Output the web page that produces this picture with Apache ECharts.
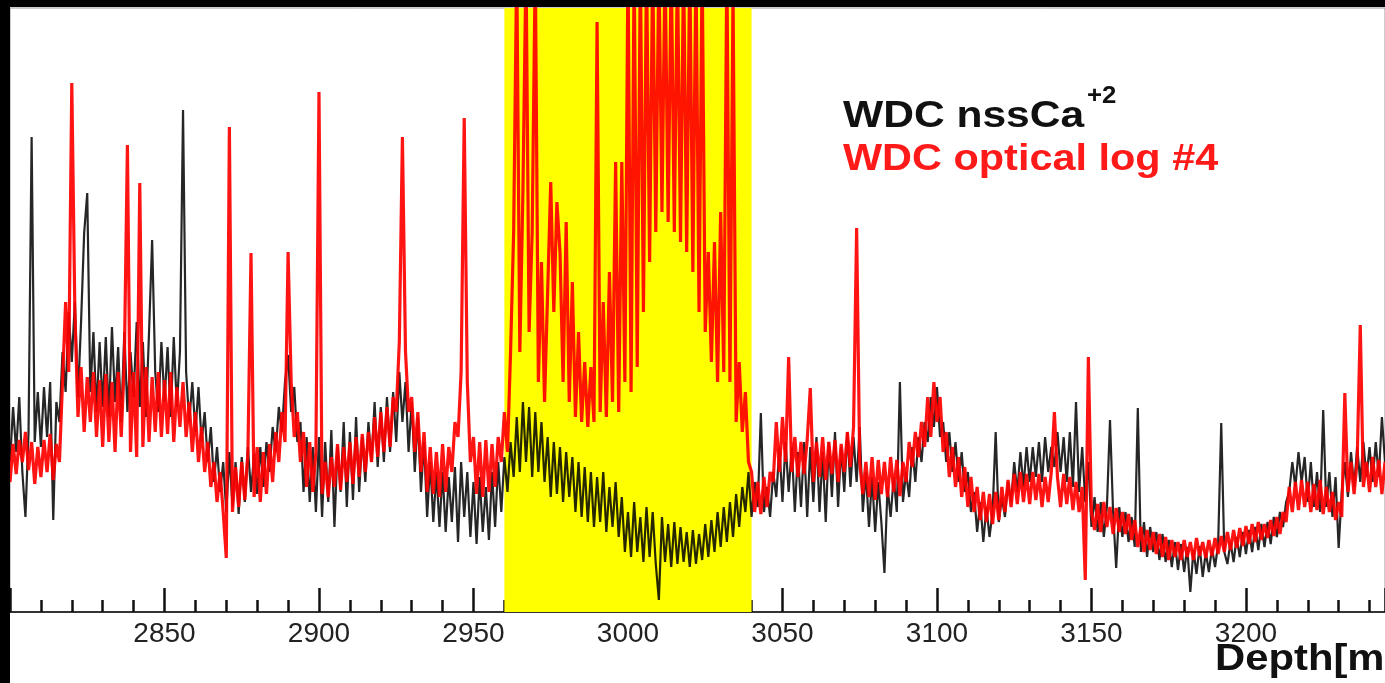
<!DOCTYPE html>
<html>
<head>
<meta charset="utf-8">
<title>WDC nssCa vs optical log</title>
<script src="https://cdn.jsdelivr.net/npm/echarts@6/dist/echarts.min.js"></script>
<style>
  html, body { margin: 0; padding: 0; background: #fff; }
  #depthChart { width: 1385px; height: 683px; }
</style>
</head>
<body>
<div id="depthChart"></div>
<script>
// depth of the first sample, one sample per metre
const depthStart = 2800;
const depthStep = 1;

// shaded depth interval
const bandRange = [2960, 3040];

// WDC optical log #4 (red), arbitrary units
const opticalLog = [
  130, 168, 138, 172, 150, 180, 142, 170, 128, 165, // 2800
  135, 172, 140, 178, 132, 168, 150, 230, 310, 240, // 2810
  529, 300, 195, 245, 180, 235, 190, 240, 175, 232, // 2820
  165, 238, 170, 230, 160, 240, 175, 250, 467, 160, // 2830
  240, 155, 429, 165, 245, 170, 235, 180, 240, 175, // 2840
  232, 178, 240, 170, 225, 185, 230, 175, 210, 160, // 2850
  200, 150, 185, 140, 170, 125, 150, 110, 140, 100, // 2860
  54, 485, 100, 145, 105, 150, 112, 160, 359, 115,  // 2870
  165, 110, 160, 118, 168, 130, 180, 150, 200, 170, // 2880
  360, 230, 175, 200, 150, 180, 125, 170, 120, 160, // 2890
  520, 118, 150, 115, 155, 125, 168, 122, 165, 130, // 2900
  170, 128, 175, 135, 178, 140, 180, 150, 195, 155, // 2910
  200, 160, 205, 165, 215, 200, 270, 475, 260, 200, // 2920
  215, 160, 200, 140, 180, 120, 165, 118, 160, 115, // 2930
  168, 120, 165, 140, 190, 175, 240, 494, 230, 150, // 2940
  175, 118, 170, 115, 172, 120, 168, 125, 175, 150, // 2950
  200, 160, 260, 380, 650, 260, 420, 650, 280, 380, // 2960
  650, 230, 350, 210, 320, 430, 300, 410, 360, 230, // 2970
  390, 210, 330, 195, 280, 190, 250, 185, 245, 190, // 2980
  590, 200, 310, 195, 340, 210, 450, 200, 450, 230, // 2990
  650, 220, 650, 245, 650, 300, 650, 350, 650, 380, // 3000
  650, 400, 650, 390, 650, 380, 650, 370, 650, 360, // 3010
  650, 340, 650, 300, 650, 280, 360, 250, 370, 230, // 3020
  400, 240, 650, 230, 620, 190, 250, 180, 220, 150, // 3030
  140, 100, 130, 98, 135, 105, 140, 130, 190, 140,  // 3040
  195, 150, 255, 140, 175, 135, 170, 138, 172, 224, // 3050
  130, 170, 135, 175, 132, 170, 138, 172, 130, 168, // 3060
  140, 180, 145, 185, 384, 150, 118, 150, 115, 155, // 3070
  112, 152, 118, 150, 115, 155, 120, 152, 116, 150, // 3080
  130, 170, 145, 180, 155, 190, 165, 215, 175, 230, // 3090
  190, 215, 160, 180, 135, 165, 125, 155, 115, 145, // 3100
  105, 135, 100, 125, 92, 120, 90, 118, 88, 120,    // 3110
  92, 125, 100, 132, 105, 138, 108, 140, 110, 138,  // 3120
  108, 140, 112, 138, 105, 135, 110, 140, 200, 135, // 3130
  105, 138, 108, 135, 102, 130, 100, 125, 32, 255,  // 3140
  100, 82, 108, 80, 110, 85, 105, 78, 104, 80,      // 3150
  100, 78, 98, 72, 92, 65, 85, 60, 82, 62,          // 3160
  80, 58, 78, 55, 75, 52, 72, 55, 70, 52,           // 3170
  72, 55, 70, 52, 74, 56, 70, 54, 72, 56,           // 3180
  74, 58, 76, 60, 80, 62, 82, 64, 84, 66,           // 3190
  86, 68, 88, 70, 90, 72, 88, 74, 92, 76,           // 3200
  95, 78, 100, 90, 125, 100, 130, 102, 132, 105,    // 3210
  130, 100, 128, 102, 132, 98, 125, 100, 120, 92,   // 3220
  110, 95, 219, 120, 150, 118, 152, 287, 125, 150,  // 3230
  120, 155, 125, 152, 118, 150                      // 3240
];

// WDC nssCa+2 (black)
const nssCa = [
  150, 205, 160, 215, 140, 95, 180, 475, 170, 220,  // 2800
  165, 225, 175, 230, 92, 210, 190, 260, 220, 300,  // 2810
  250, 310, 215, 290, 379, 419, 220, 280, 200, 270, // 2820
  205, 275, 195, 285, 210, 265, 190, 280, 200, 260, // 2830
  215, 290, 205, 270, 195, 280, 372, 240, 200, 270, // 2840
  210, 265, 195, 275, 205, 260, 502, 240, 190, 230, // 2850
  180, 225, 170, 200, 150, 185, 130, 165, 120, 150, // 2860
  100, 160, 105, 150, 98, 155, 110, 165, 120, 158,  // 2870
  118, 165, 125, 170, 140, 185, 160, 205, 180, 230, // 2880
  257, 200, 225, 170, 190, 120, 175, 110, 165, 100, // 2890
  175, 95, 170, 110, 182, 85, 165, 120, 190, 105,   // 2900
  180, 112, 195, 120, 175, 130, 190, 150, 210, 145, // 2910
  205, 150, 215, 160, 220, 170, 240, 190, 230, 160, // 2920
  210, 140, 195, 120, 170, 95, 150, 90, 140, 85,    // 2930
  140, 80, 135, 90, 145, 70, 150, 95, 140, 75,      // 2940
  130, 68, 135, 80, 125, 72, 140, 85, 150, 100,     // 2950
  155, 120, 170, 135, 195, 140, 210, 150, 205, 135, // 2960
  200, 140, 190, 130, 175, 115, 170, 118, 165, 110, // 2970
  160, 115, 155, 100, 150, 95, 145, 90, 140, 85,    // 2980
  135, 90, 140, 80, 125, 85, 130, 75, 115, 60,      // 2990
  100, 55, 110, 60, 95, 50, 105, 55, 100, 48,       // 3000
  12, 95, 50, 88, 45, 90, 48, 85, 50, 80,           // 3010
  45, 82, 48, 78, 52, 88, 55, 92, 60, 100,          // 3020
  65, 105, 70, 110, 75, 118, 85, 125, 100, 140,     // 3030
  95, 130, 105, 199, 100, 125, 95, 140, 115, 165,   // 3040
  110, 170, 120, 165, 100, 160, 105, 170, 95, 165,  // 3050
  110, 175, 100, 160, 90, 170, 115, 180, 105, 165,  // 3060
  120, 180, 125, 175, 130, 185, 100, 140, 85, 135,  // 3070
  80, 130, 90, 39, 125, 95, 135, 100, 230, 110,     // 3080
  140, 115, 165, 130, 175, 150, 190, 170, 215, 185, // 3090
  225, 175, 190, 150, 180, 140, 170, 130, 160, 120, // 3100
  140, 100, 120, 80, 110, 70, 105, 75, 100, 180,    // 3110
  90, 115, 95, 130, 110, 150, 120, 160, 125, 165,   // 3120
  130, 165, 135, 170, 130, 175, 140, 165, 145, 180, // 3130
  140, 175, 130, 180, 125, 210, 120, 165, 110, 150, // 3140
  85, 115, 80, 110, 75, 105, 192, 100, 44, 105,     // 3150
  75, 100, 70, 95, 65, 204, 60, 90, 55, 85,         // 3160
  60, 80, 52, 78, 50, 72, 45, 70, 42, 68,           // 3170
  40, 65, 20, 62, 38, 66, 35, 60, 40, 64,           // 3180
  45, 68, 189, 60, 48, 70, 50, 75, 55, 80,          // 3190
  58, 82, 60, 85, 62, 88, 65, 90, 68, 95,           // 3200
  75, 100, 85, 110, 120, 150, 125, 160, 130, 155,   // 3210
  110, 150, 105, 140, 100, 202, 105, 140, 95, 135,  // 3220
  64, 120, 150, 115, 160, 125, 165, 130, 170, 135,  // 3230
  165, 130, 170, 135, 195, 150                      // 3240
];

function toPairs(values) {
  return values.map((v, i) => [depthStart + i * depthStep, v]);
}

const chart = echarts.init(document.getElementById('depthChart'), null, { renderer: 'canvas' });

const option = {
  animation: false,
  backgroundColor: '#fff',
  grid: {
    left: 10, top: 8, right: 0, bottom: 71,
    show: true, borderColor: '#9a9a9a', borderWidth: 1, backgroundColor: 'transparent'
  },
  xAxis: {
    type: 'value',
    min: 2800,
    max: 3245,
    interval: 50,
    axisLine: { lineStyle: { color: '#000', width: 1.5 } },
    axisTick: { inside: true, length: 24, lineStyle: { color: '#111', width: 2.5 } },
    minorTick: { show: true, splitNumber: 5, length: 12, lineStyle: { color: '#111', width: 2.5 } },
    axisLabel: {
      showMinLabel: false, showMaxLabel: false,
      color: '#222', fontSize: 28, margin: 8,
      fontFamily: 'Liberation Sans, Arial, sans-serif',
      formatter: v => String(v)
    },
    splitLine: { show: false },
    minorSplitLine: { show: false }
  },
  yAxis: {
    type: 'value', min: 0, max: 604, show: false, splitLine: { show: false }
  },
  series: [
    {
      name: 'band',
      type: 'line',
      data: [],
      z: 1,
      markArea: {
        silent: true,
        itemStyle: { color: '#ffff00', opacity: 1 },
        data: [[{ xAxis: bandRange[0] }, { xAxis: bandRange[1] }]]
      }
    },
    {
      name: 'WDC nssCa+2',
      type: 'line',
      data: toPairs(nssCa),
      showSymbol: false,
      z: 2,
      lineStyle: { color: '#000', width: 2.2, opacity: 0.85 }
    },
    {
      name: 'WDC optical log #4',
      type: 'line',
      data: toPairs(opticalLog),
      showSymbol: false,
      z: 3,
      lineStyle: { color: '#ff0000', width: 3.2, opacity: 0.92 }
    }
  ],
  graphic: [
    { type: 'rect', left: 0, top: 0, shape: { width: 10, height: 683 }, style: { fill: '#000' }, z: 100 },
    { type: 'rect', left: 0, top: 0, shape: { width: 1385, height: 7 }, style: { fill: '#000' }, z: 100 },
    {
      type: 'text', x: 843, y: 117, scaleX: 1.15, z: 100,
      style: { text: 'WDC nssCa', fill: '#111', font: 'bold 37px "Liberation Sans", Arial, sans-serif', verticalAlign: 'middle' }
    },
    {
      type: 'text', x: 1087, y: 97, scaleX: 1.12, z: 100,
      style: { text: '+2', fill: '#111', font: 'bold 23px "Liberation Sans", Arial, sans-serif', verticalAlign: 'middle' }
    },
    {
      type: 'text', x: 843, y: 160, scaleX: 1.12, z: 100,
      style: { text: 'WDC optical log #4', fill: '#ff1a1a', font: 'bold 37px "Liberation Sans", Arial, sans-serif', verticalAlign: 'middle' }
    },
    {
      type: 'text', x: 1215, y: 660, scaleX: 1.13, z: 100,
      style: { text: 'Depth[m]', fill: '#111', font: 'bold 37px "Liberation Sans", Arial, sans-serif', verticalAlign: 'middle' }
    }
  ]
};

chart.setOption(option);
</script>
</body>
</html>
